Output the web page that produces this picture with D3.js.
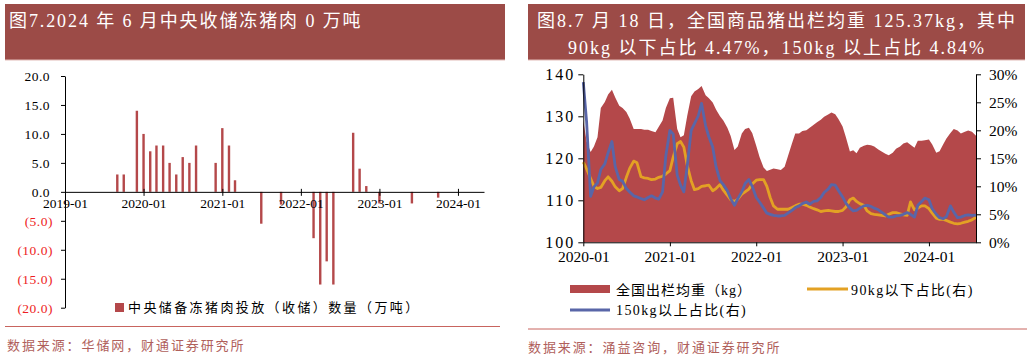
<!DOCTYPE html>
<head>
<meta charset="utf-8">
<style>
    body { margin: 0; background: #fff; }
    text { font-family: "Liberation Serif", "Noto Sans CJK SC", serif; }
</style>
</head>
<body>
<script src="https://d3js.org/d3.v7.min.js"></script>
<script>

///////////////////////////
////////// DATA ///////////
///////////////////////////

// left: central frozen pork reserve release (+) / purchase (-), 10k tonnes
const reserveMonths = ['2019-09','2019-10','2019-12','2020-01','2020-02','2020-03','2020-04','2020-05',
    '2020-06','2020-07','2020-08','2020-09','2020-12','2021-01','2021-02','2021-03','2021-07','2021-10',
    '2022-03','2022-04','2022-05','2022-06','2022-09','2022-10','2022-11','2023-01','2023-06','2023-10'];
const reserveValues = [3, 3, 14, 10, 7, 8, 8, 5, 3, 6, 5, 8, 5, 11, 8, 2, -5.5, -2.2,
    -8, -16, -12, -16, 10.2, 4, 1, -2, -2, -1];
const leftYTicks = [-20, -15, -10, -5, 0, 5, 10, 15, 20];
const leftXTicks = ['2019-01','2020-01','2021-01','2022-01','2023-01','2024-01'];

// right: semi-monthly readings (1st and 15th), last point 2024-07-18
const weightDates = [];
['2020','2021','2022','2023','2024'].forEach(y => {
    ['01','02','03','04','05','06','07','08','09','10','11','12'].forEach(m => {
        weightDates.push(y + '-' + m + '-01', y + '-' + m + '-15');
    });
});
weightDates.splice(109);          // up to 2024-07-01
weightDates.push('2024-07-18');

const avgWeight = [
    129, 124, 121.5, 122.8, 125, 132, 133.4, 135.2, 136.3, 134.5, 132.5, 132, 131, 129.5, 127, 127, 127, 126.8, 126.8, 126.5, 126.2, 127.5, 129, 132,
    134.3, 134.4, 127, 125, 125.5, 130, 134.8, 135.9, 136.5, 137.2, 135, 134.3, 133.3, 131.6, 130, 129, 127.3, 125.3, 122, 122.8, 125.9, 127, 127.3, 126,
    123, 120.3, 117.8, 117, 117.3, 117.6, 117.4, 117.2, 118, 120.5, 123.5, 125.9, 125.9, 126.5, 126.7, 127.3, 128, 128.6, 129.2, 129.9, 130.4, 130.9, 130.5, 129.3,
    127.6, 125, 121.6, 121.9, 121.2, 122.5, 123, 123.2, 123.1, 122.8, 122.1, 121.6, 121.1, 120.7, 121.3, 122.3, 122.8, 123.5, 123.8, 123.2, 122.5, 124.2, 124.2, 124.3,
    124.5, 123.3, 121.3, 121.7, 123.3, 124.7, 126, 127, 126.6, 125.9, 126.3, 126.6, 126.3, 125.37];

const under90 = [
    14.3, 13.1, 11.4, 10.0, 9.6, 9.8, 11.0, 11.7, 10.9, 9.9, 9.2, 9.6, 11.6, 13.2, 14.5, 14.2, 11.7, 11.5, 11.4, 11.2, 11.3, 11.6, 11.8, 12.2,
    12.8, 15.2, 17.6, 18.0, 17.0, 13.8, 11.0, 9.4, 9.6, 10.0, 10.1, 10.2, 9.2, 9.6, 10.3, 9.3, 8.4, 7.6, 7.3, 7.7, 8.6, 9.0, 9.5, 10.4,
    11.1, 11.2, 11.2, 10.0, 8.0, 6.5, 5.9, 5.9, 5.9, 5.9, 6.2, 6.5, 6.8, 6.8, 6.6, 6.3, 6.0, 5.8, 5.5, 5.6, 5.7, 5.6, 5.5, 5.5,
    5.7, 6.3, 7.6, 7.9, 7.3, 6.9, 6.6, 5.6, 5.1, 5.0, 4.9, 4.8, 4.7, 5.0, 5.3, 5.3, 5.1, 4.9, 4.8, 7.2, 5.8, 6.1, 6.5, 6.5,
    6.0, 5.2, 4.3, 4.1, 4.1, 3.9, 3.6, 3.4, 3.3, 3.4, 3.6, 3.75, 4.0, 4.47];

const over150 = [
    28.6, 21.5, 8.2, 9.9, 10.6, 13.0, 14.0, 16.0, 18.0, 13.5, 11.2, 10.9, 9.6, 9.0, 8.3, 8.1, 7.8, 7.6, 8.0, 8.3, 7.9, 7.7, 9.0, 15.5,
    20.0, 19.3, 12.0, 10.2, 9.0, 13.5, 20.0, 21.2, 22.6, 24.8, 20.8, 18.8, 17.0, 13.5, 11.0, 10.3, 9.2, 7.8, 6.6, 7.8, 9.0, 10.5, 11.2, 10.0,
    8.0, 7.2, 6.1, 5.2, 5.0, 4.8, 4.7, 4.7, 4.8, 5.2, 5.7, 6.2, 6.5, 6.9, 7.2, 6.8, 7.3, 7.4, 8.0, 8.9, 9.5, 10.3, 10.2, 9.2,
    8.1, 7.0, 6.1, 5.6, 5.7, 6.1, 6.5, 6.6, 6.4, 6.1, 5.8, 5.4, 4.9, 4.5, 4.5, 4.7, 4.8, 5.0, 5.3, 5.0, 4.5, 6.6, 7.3, 7.9,
    7.6, 6.0, 5.0, 4.4, 4.2, 4.6, 6.5, 5.4, 4.4, 4.5, 4.8, 4.9, 4.8, 4.84];

const rightXTicks = ['2020-01','2021-01','2022-01','2023-01','2024-01'];
const weightTicks = [100, 110, 120, 130, 140];
const pctTicks = [0, 5, 10, 15, 20, 25, 30];

///////////////////////////
////////// SETUP //////////
///////////////////////////

const barRed = '#b4484a';
const titleRed = '#9c4b47';
const srcRed = '#b0605b';
const orange = '#e3a124';
const blue = '#5966a8';

const parseM = d3.timeParse('%Y-%m');
const parseD = d3.timeParse('%Y-%m-%d');

let svg = d3.select('body').append('svg')
    .attr('width', 1033)
    .attr('height', 359);

// title bars
svg.append('rect').attr('x', 5).attr('y', 4).attr('width', 500).attr('height', 56).attr('fill', titleRed);
svg.append('rect').attr('x', 528).attr('y', 4).attr('width', 497).attr('height', 56).attr('fill', titleRed);
svg.append('line').attr('x1', 5).attr('x2', 505).attr('y1', 60).attr('y2', 60).attr('stroke', '#e2bcb8');
svg.append('line').attr('x1', 528).attr('x2', 1025).attr('y1', 60).attr('y2', 60).attr('stroke', '#e2bcb8');

svg.append('text').attr('x', 9).attr('y', 27)
    .attr('fill', '#fff').style('font-size', '18px').style('letter-spacing', '1.9px')
    .text('图7.2024 年 6 月中央收储冻猪肉 0 万吨');
svg.append('text').attr('x', 777).attr('y', 27).attr('text-anchor', 'middle')
    .attr('fill', '#fff').style('font-size', '18px').style('letter-spacing', '2px')
    .text('图8.7 月 18 日，全国商品猪出栏均重 125.37kg，其中');
svg.append('text').attr('x', 777).attr('y', 54).attr('text-anchor', 'middle')
    .attr('fill', '#fff').style('font-size', '18px').style('letter-spacing', '2px')
    .text('90kg 以下占比 4.47%，150kg 以上占比 4.84%');

//////////////////////////////
////////// LEFT BAR //////////
//////////////////////////////

let xL = d3.scaleTime().domain([parseM('2019-01'), parseM('2024-05')]).range([65, 484]);
let yL = d3.scaleLinear().domain([-20, 20]).range([307.7, 76]);

let left = svg.append('g');

left.selectAll('rect.bar').data(reserveMonths)
    .enter().append('rect')
        .attr('class', 'bar')
        .attr('x', d => xL(parseM(d)) - 1.2)
        .attr('width', 2.4)
        .attr('y', (d, i) => yL(Math.max(0, reserveValues[i])))
        .attr('height', (d, i) => Math.abs(yL(reserveValues[i]) - yL(0)))
        .attr('fill', barRed);

let yAxisL = left.append('g')
    .attr('transform', 'translate(65,0)')
    .call(d3.axisLeft(yL).tickValues(leftYTicks).tickSize(4).tickSizeOuter(0)
        .tickFormat(v => v < 0 ? '(' + (-v).toFixed(1) + ')' : v.toFixed(1)));
yAxisL.selectAll('text')
    .attr('x', v => v < 0 ? -12 : -15)
    .attr('fill', v => v < 0 ? '#ee1d23' : '#000')
    .style('font-size', '13.5px').style('letter-spacing', '0.5px').style('font-family', 'Liberation Serif');

let xAxisL = left.append('g')
    .attr('transform', 'translate(0,' + yL(0) + ')')
    .call(d3.axisBottom(xL).tickValues(leftXTicks.map(parseM)).tickSize(4).tickSizeOuter(0)
        .tickFormat(d3.timeFormat('%Y-%m')));
xAxisL.selectAll('.tick line').attr('y1', -3);
xAxisL.selectAll('text').attr('y', 16).attr('dy', 0)
    .style('font-size', '13.5px').style('font-family', 'Liberation Serif');

left.selectAll('.domain').attr('stroke', '#000');
left.selectAll('.tick line').attr('stroke', '#000');

// legend
left.append('rect').attr('x', 115).attr('y', 303).attr('width', 9).attr('height', 9).attr('fill', barRed);
left.append('text').attr('x', 128).attr('y', 312)
    .style('font-size', '13px').style('letter-spacing', '2.4px')
    .text('中央储备冻猪肉投放（收储）数量（万吨）');

left.append('line').attr('x1', 5).attr('x2', 500).attr('y1', 326.5).attr('y2', 326.5).attr('stroke', '#c8645e');
left.append('text').attr('x', 7).attr('y', 350).attr('fill', srcRed)
    .style('font-size', '13px').style('letter-spacing', '1.9px')
    .text('数据来源：华储网，财通证券研究所');

/////////////////////////////////
////////// RIGHT CHART //////////
/////////////////////////////////

let xR = d3.scaleTime().domain([parseD('2020-01-01'), parseD('2024-07-18')]).range([583.3, 976]);
let yR = d3.scaleLinear().domain([100, 140]).range([242.3, 74.3]);
let yP = d3.scaleLinear().domain([0, 30]).range([242.3, 74.3]);

let right = svg.append('g');
let dates = weightDates.map(parseD);

right.append('path')
    .datum(avgWeight)
    .attr('d', d3.area().x((d, i) => xR(dates[i])).y0(yR(100)).y1(d => yR(d)))
    .attr('fill', barRed);

[[under90, orange], [over150, blue]].forEach(s => {
    right.append('path')
        .datum(s[0])
        .attr('d', d3.line().x((d, i) => xR(dates[i])).y(d => yP(d)))
        .attr('fill', 'none')
        .attr('stroke', s[1])
        .attr('stroke-width', 2.8)
        .attr('stroke-linejoin', 'round');
});

let yAxisR1 = right.append('g')
    .attr('transform', 'translate(583.3,0)')
    .call(d3.axisLeft(yR).tickValues(weightTicks).tickSize(5).tickSizeOuter(0));
yAxisR1.selectAll('text').attr('x', -8)
    .style('font-size', '16px').style('letter-spacing', '2px');

let yAxisR2 = right.append('g')
    .attr('transform', 'translate(976,0)')
    .call(d3.axisRight(yP).tickValues(pctTicks).tickSize(5).tickSizeOuter(0).tickFormat(d => d + '%'));
yAxisR2.selectAll('text').attr('x', 13)
    .style('font-size', '15.5px');

let xAxisR = right.append('g')
    .attr('transform', 'translate(0,242.3)')
    .call(d3.axisBottom(xR).tickValues(rightXTicks.map(parseM)).tickSize(4).tickSizeOuter(0)
        .tickFormat(d3.timeFormat('%Y-%m')));
xAxisR.selectAll('text').attr('y', 20).attr('dy', 0).style('font-size', '15.5px');

right.selectAll('.domain').attr('stroke', '#000');
right.selectAll('.tick line').attr('stroke', '#000');
right.selectAll('.tick text').style('font-family', 'Liberation Serif');

// legend
right.append('rect').attr('x', 570).attr('y', 285).attr('width', 40).attr('height', 8).attr('fill', barRed);
right.append('text').attr('x', 616).attr('y', 295)
    .style('font-size', '14px').style('letter-spacing', '1px')
    .text('全国出栏均重（kg）');
right.append('line').attr('x1', 807).attr('x2', 848).attr('y1', 289).attr('y2', 289)
    .attr('stroke', orange).attr('stroke-width', 3);
right.append('text').attr('x', 851).attr('y', 295)
    .style('font-size', '14px').style('letter-spacing', '1.4px')
    .text('90kg以下占比(右)');
right.append('line').attr('x1', 570).attr('x2', 610).attr('y1', 310).attr('y2', 310)
    .attr('stroke', blue).attr('stroke-width', 3);
right.append('text').attr('x', 616).attr('y', 315)
    .style('font-size', '14px').style('letter-spacing', '1.4px')
    .text('150kg以上占比(右)');

right.append('line').attr('x1', 528).attr('x2', 1027).attr('y1', 329).attr('y2', 329).attr('stroke', '#c8645e');
right.append('text').attr('x', 528).attr('y', 352).attr('fill', srcRed)
    .style('font-size', '13px').style('letter-spacing', '1.9px')
    .text('数据来源：涌益咨询，财通证券研究所');

</script>
</body>
